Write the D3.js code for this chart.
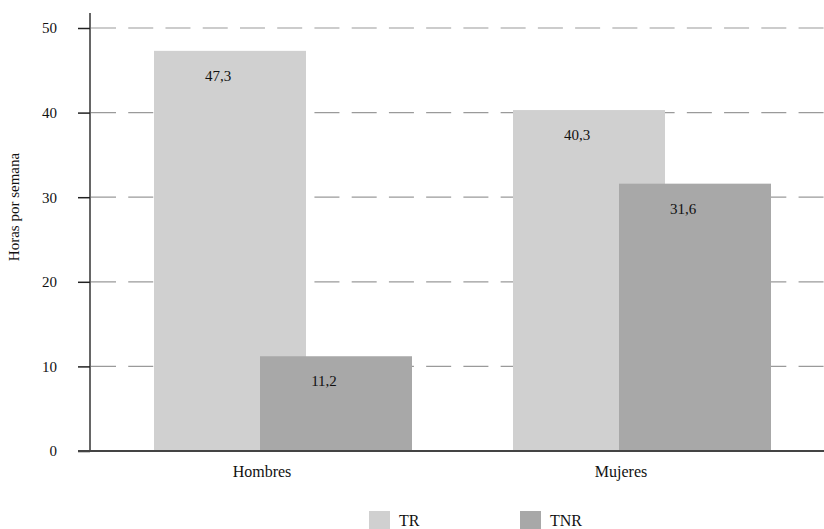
<!DOCTYPE html>
<html>
<head>
<meta charset="utf-8">
<script src="https://cdn.jsdelivr.net/npm/d3@7"></script>
<style>
  html, body { margin: 0; padding: 0; background: #fff; }
  svg { display: block; }
  svg text { font-family: "Liberation Serif", "DejaVu Serif"; fill: #111; }
</style>
</head>
<body>
<svg id="chart" width="824" height="529"></svg>
<script>
// Horas semanales de trabajo remunerado (TR) y no remunerado (TNR) por sexo
const categories = ["Hombres", "Mujeres"];
const seriesNames = ["TR", "TNR"];
const trValues = [47.3, 40.3];
const tnrValues = [11.2, 31.6];
const yTicks = [0, 10, 20, 30, 40, 50];
const yTitle = "Horas por semana";

const seriesValues = [trValues, tnrValues];
const colors = { TR: "#d0d0d0", TNR: "#a8a8a8" };

const svg = d3.select("#chart");
const plotLeft = 90, plotRight = 824, plotTop = 13, plotBottom = 451;

const y = d3.scaleLinear().domain([0, 50]).range([plotBottom, 28]);
const x0 = d3.scaleBand().domain(categories).range([plotLeft, plotLeft + 718]).padding(0);
const x1 = d3.scalePoint().domain(seriesNames).range([64, 170]);
const barW = 152;

// dashed horizontal grid
svg.append("g")
  .selectAll("line")
  .data(yTicks.filter(d => d > 0))
  .join("line")
  .attr("x1", plotLeft + 1).attr("x2", plotRight)
  .attr("y1", d => y(d)).attr("y2", d => y(d))
  .attr("stroke", "#9a9a9a")
  .attr("stroke-width", 1.2)
  .attr("stroke-dasharray", "25,12.24");

// bars (TNR drawn over TR)
const rows = [];
seriesNames.forEach((s, si) => {
  categories.forEach((c, ci) => rows.push({ cat: c, series: s, value: seriesValues[si][ci] }));
});

svg.append("g")
  .selectAll("rect")
  .data(rows)
  .join("rect")
  .attr("x", d => x0(d.cat) + x1(d.series))
  .attr("y", d => y(d.value))
  .attr("width", barW)
  .attr("height", d => y(0) - y(d.value))
  .attr("fill", d => colors[d.series]);

// value labels
svg.append("g")
  .selectAll("text")
  .data(rows)
  .join("text")
  .attr("x", d => x0(d.cat) + x1(d.series) + barW / 2 - 12)
  .attr("y", d => y(d.value) + 30)
  .attr("text-anchor", "middle")
  .style("font-size", "15px")
  .text(d => d3.format(".1f")(d.value).replace(".", ","));

// y axis
const yAxis = d3.axisLeft(y).tickValues(yTicks).tickSize(12).tickPadding(21);
const gy = svg.append("g").attr("transform", `translate(${plotLeft},0)`).call(yAxis);
gy.attr("font-family", null).attr("font-size", null);
gy.select(".domain").attr("d", `M0,${plotTop}V${plotBottom}`).attr("stroke", "#333").attr("stroke-width", 1.5);
gy.selectAll(".tick line").attr("stroke", "#222").attr("stroke-width", 1.5);
gy.selectAll(".tick text").style("font-size", "15px");

// x axis baseline
svg.append("line")
  .attr("x1", plotLeft - 12).attr("x2", plotRight)
  .attr("y1", plotBottom).attr("y2", plotBottom)
  .attr("stroke", "#444").attr("stroke-width", 2);

// category labels
svg.append("g")
  .selectAll("text")
  .data(categories)
  .join("text")
  .attr("x", d => x0(d) + 172)
  .attr("y", 477)
  .attr("text-anchor", "middle")
  .style("font-size", "16px")
  .text(d => d);

// y axis title
svg.append("text")
  .attr("transform", "translate(19,207) rotate(-90)")
  .attr("text-anchor", "middle")
  .style("font-size", "15px")
  .text(yTitle);

// legend
const legendX = [369, 520];
const lg = svg.append("g")
  .selectAll("g")
  .data(seriesNames)
  .join("g")
  .attr("transform", (d, i) => `translate(${legendX[i]},511)`);
lg.append("rect").attr("width", 21).attr("height", 18).attr("fill", d => colors[d]);
lg.append("text").attr("x", 30).attr("y", 15).style("font-size", "16px").text(d => d);
</script>
</body>
</html>
